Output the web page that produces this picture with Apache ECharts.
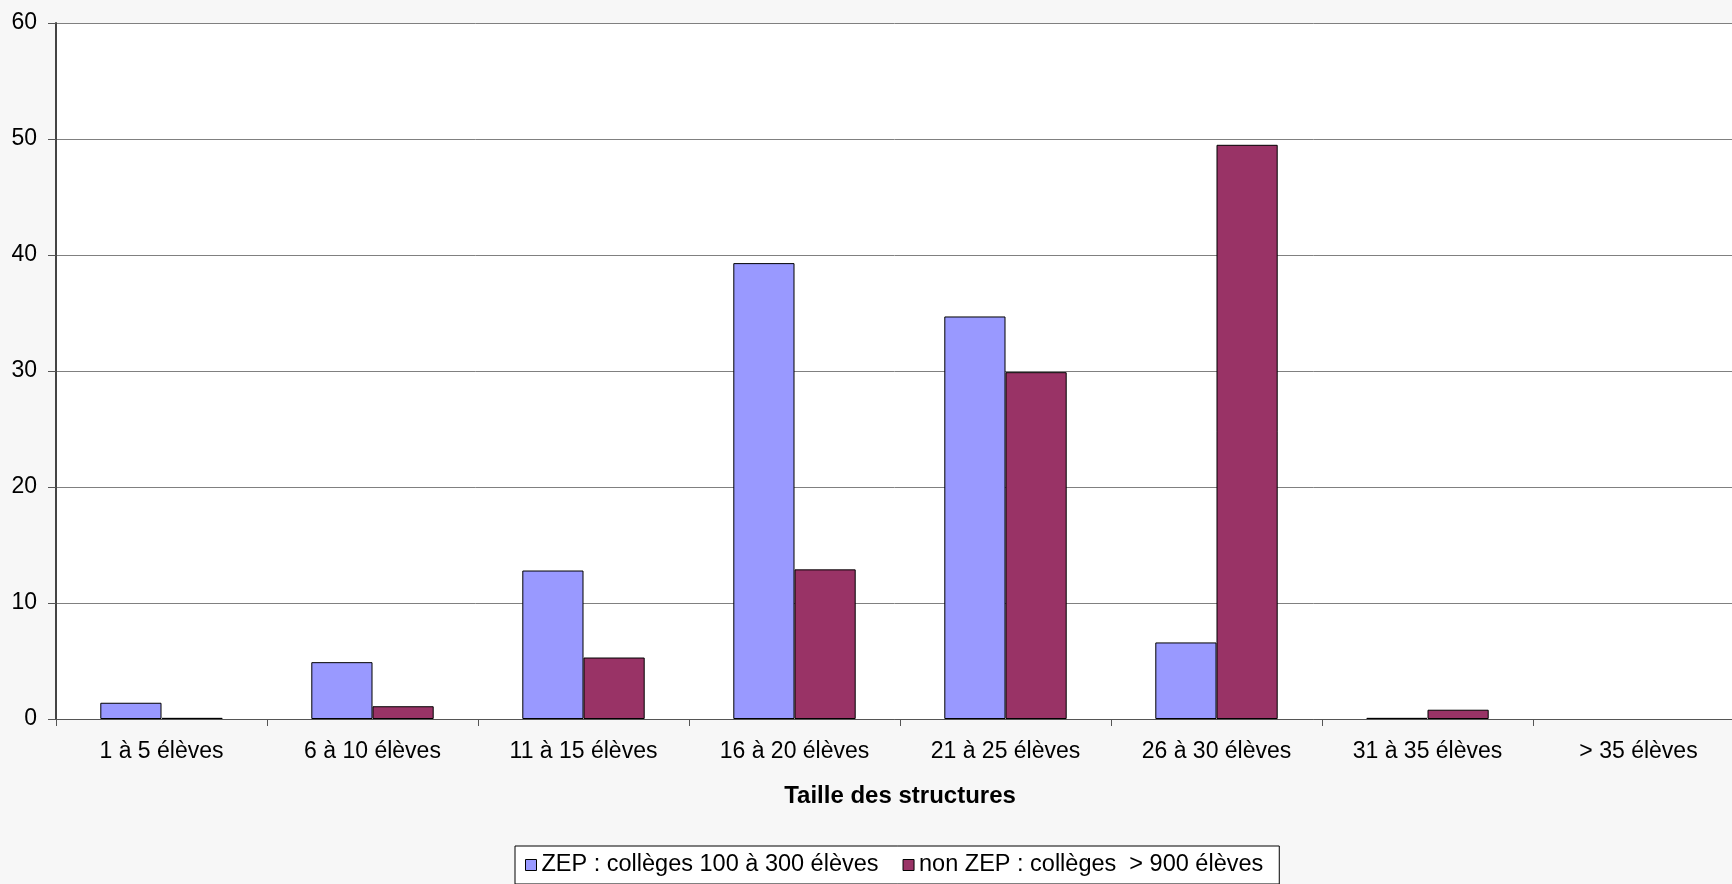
<!DOCTYPE html>
<html>
<head>
<meta charset="utf-8">
<script src="https://cdn.jsdelivr.net/npm/echarts@6/dist/echarts.min.js"></script>
<style>
html,body{margin:0;padding:0;background:#f7f7f7;}
#c{width:1732px;height:884px;}
</style>
</head>
<body>
<div id="c"></div>
<script>
const categories = ['1 à 5 élèves','6 à 10 élèves','11 à 15 élèves','16 à 20 élèves','21 à 25 élèves','26 à 30 élèves','31 à 35 élèves','> 35 élèves'];
const zepValues = [1.4, 4.9, 12.8, 39.3, 34.7, 6.6, 0.1, 0];
const nonZepValues = [0.1, 1.1, 5.3, 12.9, 29.9, 49.5, 0.8, 0];
const seriesNames = ['ZEP : collèges 100 à 300 élèves', 'non ZEP : collèges  > 900 élèves'];
const yTicks = {min: 0, max: 60, interval: 10};

// zero-height bars drawn without an outline (nothing visible in the reference)
function toBarData(values) {
  return values.map(v => v === 0 ? {value: v, itemStyle: {borderWidth: 0}} : v);
}

const chart = echarts.init(document.getElementById('c'), null, {renderer: 'canvas'});
const font = 'Liberation Sans, Arial, sans-serif';
chart.setOption({
  backgroundColor: '#f7f7f7',
  animation: false,
  textStyle: {fontFamily: font},
  grid: {left: 56, top: 23, right: -12, bottom: 165, show: true, backgroundColor: '#ffffff', borderWidth: 0, outerBoundsMode: 'none', containLabel: false},
  legend: {
    left: 515, top: 846,
    padding: [7, 16, 7, 10],
    borderColor: '#000', borderWidth: 1, backgroundColor: '#ffffff',
    itemWidth: 11, itemHeight: 11, itemGap: 24,
    textStyle: {fontSize: 23.5, color: '#000', fontFamily: font},
    data: [
      {name: seriesNames[0], icon: 'rect', itemStyle: {borderColor: '#000', borderWidth: 1}},
      {name: seriesNames[1], icon: 'rect', itemStyle: {borderColor: '#000', borderWidth: 1}}
    ]
  },
  xAxis: {
    type: 'category',
    data: categories,
    name: 'Taille des structures',
    nameLocation: 'middle',
    nameGap: 65,
    nameTextStyle: {fontSize: 24, fontWeight: 'bold', color: '#000', fontFamily: font},
    axisLine: {lineStyle: {color: '#555', width: 1}},
    axisTick: {show: true, length: 7, lineStyle: {color: '#555'}},
    axisLabel: {fontSize: 23, color: '#000', margin: 21, interval: 0},
    splitLine: {show: false}
  },
  yAxis: {
    type: 'value',
    min: yTicks.min, max: yTicks.max, interval: yTicks.interval,
    axisLine: {show: true, lineStyle: {color: '#444', width: 2}},
    axisTick: {show: true, length: 8, lineStyle: {color: '#555'}},
    axisLabel: {fontSize: 23, color: '#000', margin: 19},
    splitLine: {lineStyle: {color: '#808080', width: 1}}
  },
  series: [
    {
      name: seriesNames[0], type: 'bar', data: toBarData(zepValues),
      barGap: '0%', barCategoryGap: '42%',
      itemStyle: {color: '#9999ff', borderColor: '#000', borderWidth: 1}
    },
    {
      name: seriesNames[1], type: 'bar', data: toBarData(nonZepValues),
      barGap: '0%', barCategoryGap: '42%',
      itemStyle: {color: '#993366', borderColor: '#000', borderWidth: 1}
    }
  ]
});
</script>
</body>
</html>
